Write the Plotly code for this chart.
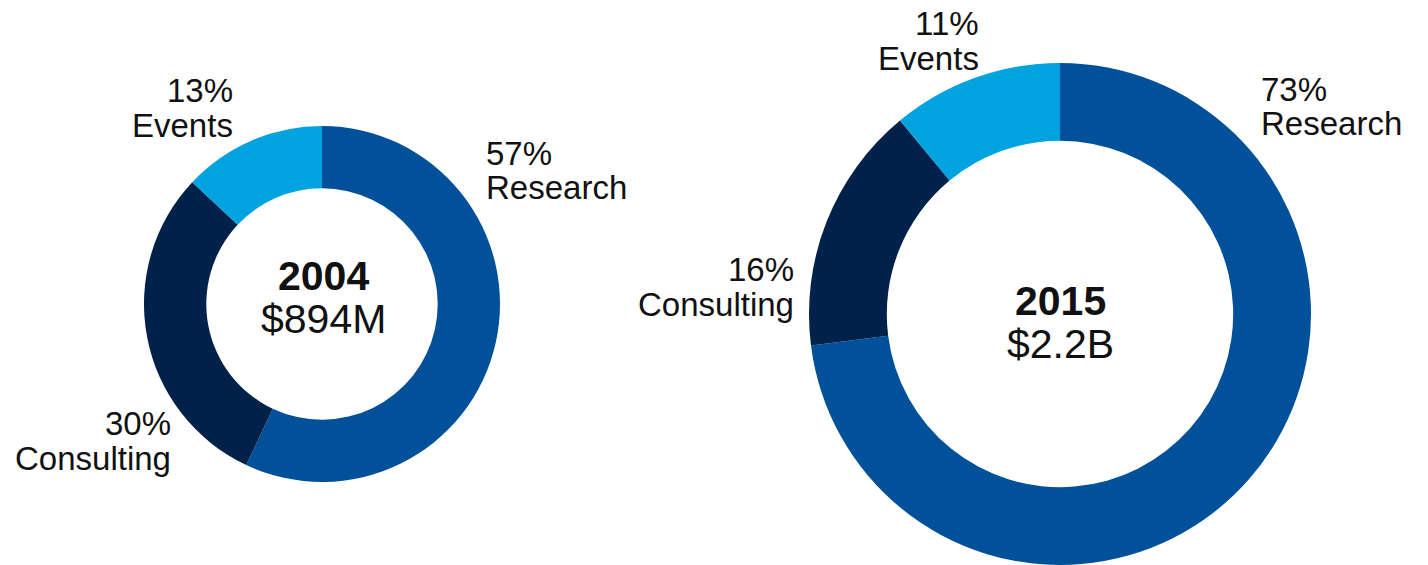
import plotly.graph_objects as go

W, H = 1428, 565
OFF = 0  # body margin removed via post_script

segments = ["Research", "Consulting", "Events"]
values_2004 = [57, 30, 13]
values_2015 = [73, 16, 11]
years = ["2004", "2015"]
totals = ["$894M", "$2.2B"]
colors = ["#00509A", "#00214A", "#00A3E0"]

FONT = "Arial, Liberation Sans, sans-serif"

def px_x(x):
    return (x - OFF) / W

def px_y(y):
    return 1 - (y - OFF) / H

fig = go.Figure()

fig.add_trace(go.Pie(
    labels=segments, values=values_2004, hole=0.65, sort=False,
    direction="clockwise", rotation=0,
    marker=dict(colors=colors, line=dict(width=0)),
    textinfo="none", hoverinfo="label+percent", showlegend=False,
    domain=dict(x=[px_x(144), px_x(500)], y=[px_y(482), px_y(126)]),
))
fig.add_trace(go.Pie(
    labels=segments, values=values_2015, hole=0.69, sort=False,
    direction="clockwise", rotation=0,
    marker=dict(colors=colors, line=dict(width=0)),
    textinfo="none", hoverinfo="label+percent", showlegend=False,
    domain=dict(x=[px_x(809), px_x(1311)], y=[px_y(565), px_y(63)]),
))

annotations = []

def label(px, py, text, anchor, size=33, bold=False):
    pad = {"left": -3, "right": 3, "center": 0}[anchor]
    annotations.append(dict(
        x=px_x(px + pad), y=px_y(py), xref="paper", yref="paper",
        text=f"<b>{text}</b>" if bold else text,
        showarrow=False, xanchor=anchor, yanchor="middle",
        font=dict(family=FONT, size=size, color="#111111"),
    ))

# label positions (pixel) per chart: (x, pct_y, name_y, anchor) for each segment
pos_2004 = {
    "Research": (487, 153, 188, "left"),
    "Consulting": (170, 423, 458, "right"),
    "Events": (232, 91, 126, "right"),
}
pos_2015 = {
    "Research": (1262, 89, 124, "left"),
    "Consulting": (793, 269, 304, "right"),
    "Events": (978, 23, 58, "right"),
}

for vals, pos in ((values_2004, pos_2004), (values_2015, pos_2015)):
    for seg, v in zip(segments, vals):
        x, y1, y2, anc = pos[seg]
        label(x, y1, f"{v}%", anc)
        label(x, y2, seg, anc)

# center labels
label(323, 276, years[0], "center", size=41, bold=True)
label(323, 319, totals[0], "center", size=41)
label(1060, 301, years[1], "center", size=41, bold=True)
label(1060, 344, totals[1], "center", size=41)

fig.update_layout(
    width=W, height=H,
    margin=dict(l=0, r=0, t=0, b=0),
    paper_bgcolor="white", plot_bgcolor="white",
    annotations=annotations,
    font=dict(family=FONT),
)

fig.write_html(
    "out.html",
    config={"displayModeBar": False},
    post_script="document.body.style.margin='0';document.body.style.overflow='hidden';",
)
